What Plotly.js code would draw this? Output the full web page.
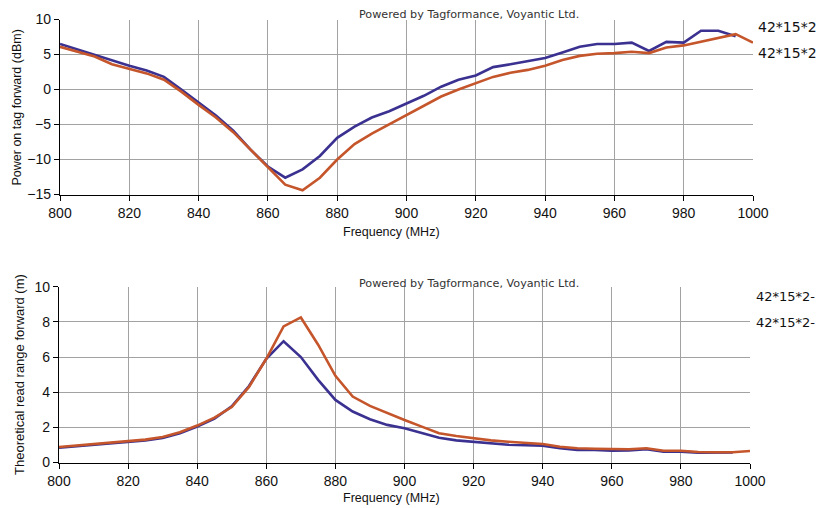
<!DOCTYPE html>
<html>
<head>
<meta charset="utf-8">
<script src="https://cdn.plot.ly/plotly-3.0.1.min.js"></script>
<style>html,body{margin:0;padding:0;background:#fff;}#chart{width:818px;height:508px;}</style>
</head>
<body>
<div id="chart"></div>
<script>
// Frequencies (MHz)
const freq = [800,805,810,815,820,825,830,835,840,845,850,855,860,865,870,875,880,885,890,895,900,905,910,915,920,925,930,935,940,945,950,955,960,965,970,975,980,985,990,995,1000];
const freqBlue = [800,805,810,815,820,825,830,835,840,845,850,855,860,865,870,875,880,885,890,895,900,905,910,915,920,925,930,935,940,945,950,955,960,965,970,975,980,985,990,995];

// Power on tag forward (dBm)
const powerBlue = [6.5,5.7,5.0,4.2,3.4,2.7,1.8,0.0,-1.9,-3.7,-5.9,-8.6,-11.0,-12.6,-11.4,-9.5,-6.9,-5.3,-4.0,-3.1,-2.0,-0.9,0.4,1.4,2.0,3.2,3.6,4.0,4.5,5.3,6.1,6.5,6.5,6.7,5.5,6.8,6.7,8.4,8.4,7.6];
const powerOrange = [6.1,5.4,4.7,3.6,2.9,2.3,1.4,-0.3,-2.2,-4.0,-6.1,-8.6,-11.0,-13.6,-14.4,-12.6,-10.0,-7.8,-6.3,-5.0,-3.7,-2.3,-1.0,0.0,0.9,1.8,2.4,2.8,3.4,4.2,4.8,5.1,5.2,5.4,5.2,6.0,6.3,6.8,7.4,7.9,6.7];

// Theoretical read range forward (m)
const rangeBlue = [0.84,0.92,1.0,1.08,1.18,1.26,1.4,1.66,2.04,2.5,3.2,4.35,5.9,6.9,6.0,4.7,3.56,2.9,2.46,2.14,1.95,1.66,1.41,1.26,1.18,1.07,1.01,0.98,0.96,0.81,0.71,0.71,0.67,0.69,0.75,0.62,0.62,0.56,0.56,0.57];
const rangeOrange = [0.88,0.97,1.03,1.12,1.22,1.3,1.45,1.72,2.1,2.55,3.15,4.3,5.9,7.74,8.25,6.7,4.93,3.75,3.22,2.8,2.42,2.04,1.66,1.51,1.38,1.26,1.18,1.13,1.05,0.9,0.81,0.78,0.75,0.75,0.81,0.67,0.67,0.6,0.58,0.58,0.65];

const seriesLabels = ["42*15*2", "42*15*2"];
const seriesLabelsBottom = ["42*15*2-", "42*15*2-"];
const credit = "Powered by Tagformance, Voyantic Ltd.";

const W = 818, H = 508;
const px = x => x / W;
const py = y => 1 - y / H;

const BLUE = '#3b3190';
const ORANGE = '#c5552b';

const traces = [
  {x: freqBlue, y: powerBlue, xaxis:'x', yaxis:'y', type:'scatter', mode:'lines', line:{color:BLUE, width:2.6}},
  {x: freq, y: powerOrange, xaxis:'x', yaxis:'y', type:'scatter', mode:'lines', line:{color:ORANGE, width:2.6}},
  {x: freqBlue, y: rangeBlue, xaxis:'x2', yaxis:'y2', type:'scatter', mode:'lines', line:{color:BLUE, width:2.6}},
  {x: freq, y: rangeOrange, xaxis:'x2', yaxis:'y2', type:'scatter', mode:'lines', line:{color:ORANGE, width:2.6}}
];

const tickFont = {family:'Liberation Sans, Arial, sans-serif', size:14, color:'#111'};
const common = {
  showline:true, linecolor:'#000', linewidth:1.2,
  ticks:'outside', ticklen:5, tickcolor:'#000', tickwidth:1,
  showgrid:true, gridcolor:'#a2a2a2', gridwidth:1,
  zeroline:false, tickfont:tickFont, fixedrange:true
};

const titleFont = {family:'Liberation Sans, Arial, sans-serif', size:12.5, color:'#111'};
const creditFont = {family:'DejaVu Sans, sans-serif', size:11.2, color:'#333'};
const labelFont = {family:'DejaVu Sans, sans-serif', size:14, color:'#111'};
const labelFontBottom = {family:'DejaVu Sans, sans-serif', size:13, color:'#111'};

const annotations = [
  {text:credit, x:px(469), y:py(15), xref:'paper', yref:'paper', showarrow:false, font:creditFont, xanchor:'center', yanchor:'middle'},
  {text:credit, x:px(469), y:py(283.5), xref:'paper', yref:'paper', showarrow:false, font:creditFont, xanchor:'center', yanchor:'middle'},
  {text:'Frequency (MHz)', x:px(391), y:py(232), xref:'paper', yref:'paper', showarrow:false, font:titleFont, xanchor:'center', yanchor:'middle'},
  {text:'Frequency (MHz)', x:px(391), y:py(498), xref:'paper', yref:'paper', showarrow:false, font:titleFont, xanchor:'center', yanchor:'middle'},
  {text:'Power on tag forward (dBm)', x:px(16.5), y:py(108), xref:'paper', yref:'paper', showarrow:false, font:titleFont, textangle:-90, xanchor:'center', yanchor:'middle'},
  {text:'Theoretical read range forward (m)', x:px(19), y:py(375), xref:'paper', yref:'paper', showarrow:false, font:Object.assign({}, titleFont, {size:13}), textangle:-90, xanchor:'center', yanchor:'middle'},
  {text:seriesLabels[0], x:px(756), y:py(26.5), xref:'paper', yref:'paper', showarrow:false, font:labelFont, xanchor:'left', yanchor:'middle'},
  {text:seriesLabels[1], x:px(756), y:py(53), xref:'paper', yref:'paper', showarrow:false, font:labelFont, xanchor:'left', yanchor:'middle'},
  {text:seriesLabelsBottom[0], x:px(754), y:py(296), xref:'paper', yref:'paper', showarrow:false, font:labelFontBottom, xanchor:'left', yanchor:'middle'},
  {text:seriesLabelsBottom[1], x:px(754), y:py(322), xref:'paper', yref:'paper', showarrow:false, font:labelFontBottom, xanchor:'left', yanchor:'middle'}
];

const layout = {
  width:W, height:H,
  margin:{l:0, r:0, t:0, b:0, pad:0},
  paper_bgcolor:'#fff', plot_bgcolor:'#fff',
  showlegend:false,
  xaxis: Object.assign({}, common, {domain:[px(60), px(753)], range:[800,1000], dtick:20, tick0:800, anchor:'y'}),
  yaxis: Object.assign({}, common, {domain:[py(194.5), py(19.5)], range:[-15,10], dtick:5, tick0:-15, anchor:'x'}),
  xaxis2: Object.assign({}, common, {domain:[px(59), px(750)], range:[800,1000], dtick:20, tick0:800, anchor:'y2'}),
  yaxis2: Object.assign({}, common, {domain:[py(462.5), py(286.7)], range:[0,10], dtick:2, tick0:0, anchor:'x2'}),
  annotations: annotations
};

Plotly.newPlot('chart', traces, layout, {displayModeBar:false, staticPlot:true});
</script>
</body>
</html>
